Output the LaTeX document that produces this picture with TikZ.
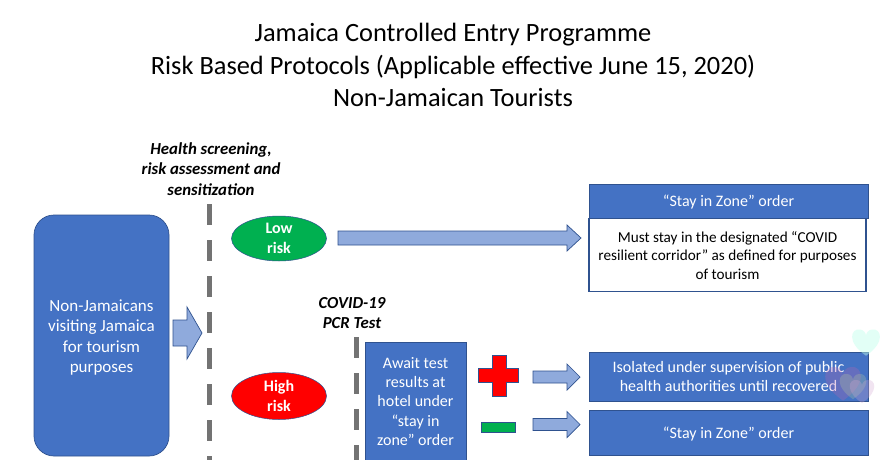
\documentclass[tikz,border=0pt]{standalone}
\usepackage{fontspec}
\setmainfont{Carlito}
\usetikzlibrary{shapes.geometric}
\definecolor{blu}{HTML}{4472C4}
\definecolor{arr}{HTML}{8FAADC}
\definecolor{edgeb}{HTML}{2F528F}
\definecolor{grn}{HTML}{00B050}
\definecolor{barc}{HTML}{737373}
\tikzset{x=1pt,y=-1pt,
 box/.style={draw=edgeb,line width=.7pt,fill=blu,text=white,align=center,font=\fontsize{16}{19.5}\selectfont,inner sep=1pt},
 wbox/.style={draw=edgeb,line width=1.2pt,fill=white,text=black,align=center,font=\fontsize{15.2}{18.5}\selectfont,inner sep=1pt},
 oval/.style={ellipse,draw=edgeb,line width=.5pt,text=white,align=center,font=\fontsize{16}{19.5}\bfseries\selectfont,inner sep=0pt},
 fat/.style={draw=edgeb,line width=.7pt,fill=arr},
 bar/.style={line width=5pt,dash pattern=on 21pt off 15pt,draw=barc},
 note/.style={align=center,font=\fontsize{16.8}{20.5}\bfseries\itshape\selectfont,text=black},
 ttl/.style={font=\fontsize{26.4}{30}\selectfont,text=black}}
% x start, y centre, x end, shaft half, head half, head length
\newcommand{\blockarr}[6]{\draw[fat] (#1,#2-#4) -- (#3-#6,#2-#4) -- (#3-#6,#2-#5) -- (#3,#2) -- (#3-#6,#2+#5) -- (#3-#6,#2+#4) -- (#1,#2+#4) -- cycle;}
% centre x, centre y, colour, opacity, scale
\newcommand{\hrt}[5]{\fill[#3,opacity=#4,shift={(#1,#2)},scale=#5] (0,11) .. controls (-16,0) and (-12,-11) .. (-5,-10) .. controls (-2,-10) and (0,-7) .. (0,-5) .. controls (0,-7) and (2,-10) .. (5,-10) .. controls (12,-11) and (16,0) .. (0,11) -- cycle;}
\begin{document}
\begin{tikzpicture}
\path[use as bounding box] (0,0) rectangle (896,460);
\fill[white] (0,0) rectangle (896,460);
\node[ttl] (t1) at (453,35) {Jamaica Controlled Entry Programme};
\node[ttl] (t2) at (453,67) {Risk Based Protocols (Applicable effective June 15, 2020)};
\node[ttl] (t3) at (453,98) {Non-Jamaican Tourists};
\node[note] (hs) at (211,169) {Health screening,\\risk assessment and\\sensitization};
\node[note] (pcr) at (352,313) {COVID-19\\PCR Test};
\node[box,rounded corners=20pt,minimum width=135pt,minimum height=241pt,font=\fontsize{17}{20.3}\selectfont] (src) at (101.5,335.5) {\rule{0pt}{16pt}Non-Jamaicans\\visiting Jamaica\\for tourism\\purposes};
\blockarr{173}{333}{202}{13}{26}{15}
\coordinate (b1t) at (209,204); \coordinate (b1b) at (209,460);
\draw[bar] (b1t) -- (b1b);
\coordinate (b2t) at (356,337); \coordinate (b2b) at (356,460);
\draw[bar] (b2t) -- (b2b);
\node[oval,fill=grn,minimum width=95pt,minimum height=45pt] (low) at (279,238.5) {Low\\risk};
\node[oval,fill=red,minimum width=95pt,minimum height=47pt] (high) at (279,396) {High\\risk};
\begin{scope}
\clip (0,0) rectangle (896,460);
\fill[blu,draw=edgeb,line width=.7pt] (365,342) rectangle (466,470);
\end{scope}
\node[align=center,text=white,font=\fontsize{16}{19.3}\selectfont,inner sep=0pt] (wait) at (415.5,401.5) {Await test\\results at\\hotel under\\“stay in\\zone” order};
\node[box,minimum width=279pt,minimum height=34pt] (z1) at (728.5,201) {\rule{0pt}{13.5pt}“Stay in Zone” order};
\node[wbox,minimum width=277pt,minimum height=73pt,anchor=north] (m) at (727.5,218) {Must stay in the designated “COVID\\resilient corridor” as defined for purposes\\of tourism};
\node[box,minimum width=279pt,minimum height=49pt] (iso) at (728.5,376.5) {Isolated under supervision of public\\health authorities until recovered};
\node[box,minimum width=279pt,minimum height=45pt] (z2) at (728.5,432.5) {\rule{0pt}{15.5pt}“Stay in Zone” order};
\blockarr{338}{238}{581}{7}{13}{14}
\blockarr{533}{377}{580}{6}{13}{13}
\blockarr{533}{424.5}{580}{6}{13}{13}
\draw[edgeb,line width=.5pt,fill=red] (492,355) -- (506,355) -- (506,368) -- (518,368) -- (518,382) -- (506,382) -- (506,396) -- (492,396) -- (492,382) -- (478,382) -- (478,368) -- (492,368) -- cycle;
\draw[fill=grn,draw=edgeb,line width=.5pt] (481,422) rectangle (515,432);
\hrt{866}{342}{green!30!cyan!25}{.45}{1.25}
\hrt{843}{383}{red!50!blue!60}{.3}{1.6}
\hrt{853}{386}{red!40!green!40}{.25}{1.2}
\hrt{862}{391}{violet!35}{.3}{1.1}
\end{tikzpicture}
\end{document}
